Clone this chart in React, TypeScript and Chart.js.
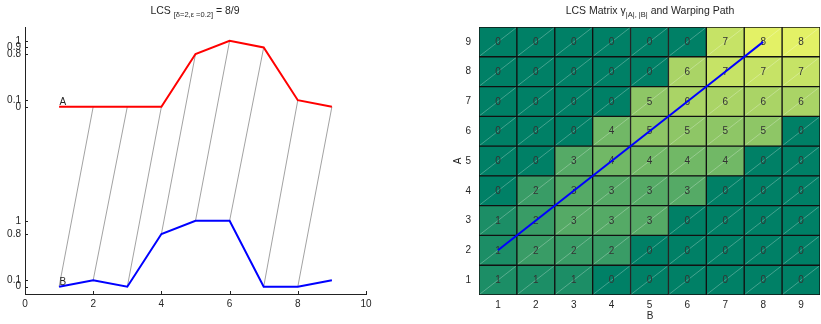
import React, { useEffect, useRef } from 'react';
import { Chart, registerables } from 'chart.js';

Chart.register(...registerables);

// ---- Left panel data ----
const POSITIONS = [1, 2, 3, 4, 5, 6, 7, 8, 9];
const SERIES_A = [0, 0, 0, 0, 0.8, 1, 0.9, 0.1, 0];
const SERIES_B = [0, 0.1, 0, 0.8, 1, 1, 0, 0, 0.1];
const A_OFFSET = 2.73;
const A_TICKS = [0, 0.1, 0.8, 0.9, 1];
const B_TICKS = [0, 0.1, 0.8, 1];
const X_TICKS = [0, 2, 4, 6, 8, 10];

// ---- Warping path (B index -> A index) ----
const PATH_B = [1, 2, 3, 4, 5, 6, 7, 8];
const PATH_A = [2, 3, 4, 5, 6, 7, 8, 9];

// ---- Right panel data: LCS matrix, rows A = 1..9, columns B = 1..9 ----
const MATRIX_COLS = ['1', '2', '3', '4', '5', '6', '7', '8', '9'];
const MATRIX_ROWS = [1, 2, 3, 4, 5, 6, 7, 8, 9];
const ROW_1 = [1, 1, 1, 0, 0, 0, 0, 0, 0];
const ROW_2 = [1, 2, 2, 2, 0, 0, 0, 0, 0];
const ROW_3 = [1, 2, 3, 3, 3, 0, 0, 0, 0];
const ROW_4 = [0, 2, 3, 3, 3, 3, 0, 0, 0];
const ROW_5 = [0, 0, 3, 4, 4, 4, 4, 0, 0];
const ROW_6 = [0, 0, 0, 4, 5, 5, 5, 5, 0];
const ROW_7 = [0, 0, 0, 0, 5, 6, 6, 6, 6];
const ROW_8 = [0, 0, 0, 0, 0, 6, 7, 7, 7];
const ROW_9 = [0, 0, 0, 0, 0, 0, 7, 8, 8];
const LCS_MATRIX = [ROW_1, ROW_2, ROW_3, ROW_4, ROW_5, ROW_6, ROW_7, ROW_8, ROW_9];
const COLOR_MAX = 9;

const FONT_FAMILY = '"Liberation Sans", Arial, Helvetica, sans-serif';
const TEXT_COLOR = '#262626';

function summer(v: number): string {
  const t = Math.max(0, Math.min(1, v / COLOR_MAX));
  const r = Math.round(255 * t);
  const g = Math.round(255 * (0.5 + 0.5 * t));
  return `rgb(${r},${g},102)`;
}

function fmt(v: number): string {
  return String(Number(v.toFixed(2)));
}

const inwardTicks = {
  id: 'inwardTicks',
  afterDraw(chart: any) {
    const { ctx, chartArea } = chart;
    const xs = chart.scales.x;
    const ys = chart.scales.y;
    ctx.save();
    ctx.strokeStyle = '#222';
    ctx.lineWidth = 1;
    ctx.beginPath();
    xs.ticks.forEach((t: any) => {
      const px = Math.round(xs.getPixelForValue(t.value)) + 0.5;
      ctx.moveTo(px, chartArea.bottom);
      ctx.lineTo(px, chartArea.bottom - 3);
    });
    ys.ticks.forEach((t: any) => {
      const py = Math.round(ys.getPixelForValue(t.value)) + 0.5;
      ctx.moveTo(chartArea.left, py);
      ctx.lineTo(chartArea.left + 3, py);
    });
    ctx.stroke();
    // series name labels
    ctx.fillStyle = TEXT_COLOR;
    ctx.font = `10px ${FONT_FAMILY}`;
    ctx.textAlign = 'left';
    ctx.textBaseline = 'alphabetic';
    ctx.fillText('A', xs.getPixelForValue(POSITIONS[0]) + 0.5, ys.getPixelForValue(SERIES_A[0] + A_OFFSET) - 2);
    ctx.fillText('B', xs.getPixelForValue(POSITIONS[0]) + 0.5, ys.getPixelForValue(SERIES_B[0]) - 2);
    ctx.restore();
  },
};

const cellPlugin = {
  id: 'cellText',
  afterDatasetDraw(chart: any, args: any) {
    const ds = chart.data.datasets[args.index];
    if (ds.rowIndex === undefined) return;
    const { ctx } = chart;
    const xs = chart.scales.x;
    const ys = chart.scales.y;
    const r = ds.rowIndex;
    const row = LCS_MATRIX[r];
    const halfW = (xs.getPixelForValue(1) - xs.getPixelForValue(0)) / 2;
    const halfH = Math.abs(ys.getPixelForValue(MATRIX_ROWS[r] + 0.5) - ys.getPixelForValue(MATRIX_ROWS[r]));
    ctx.save();
    row.forEach((val: number, c: number) => {
      const cx = xs.getPixelForValue(c);
      const cy = ys.getPixelForValue(MATRIX_ROWS[r]);
      ctx.strokeStyle = 'rgba(255,255,255,0.45)';
      ctx.lineWidth = 0.6;
      ctx.beginPath();
      ctx.moveTo(cx - halfW + 1, cy + halfH - 1);
      ctx.lineTo(cx + halfW - 1, cy - halfH + 1);
      ctx.stroke();
      ctx.fillStyle = '#333';
      ctx.font = `10px ${FONT_FAMILY}`;
      ctx.textAlign = 'center';
      ctx.textBaseline = 'middle';
      ctx.fillText(String(val), cx, cy + 0.5);
    });
    ctx.restore();
  },
};

export default function App() {
  const leftRef = useRef<HTMLCanvasElement | null>(null);
  const rightRef = useRef<HTMLCanvasElement | null>(null);

  useEffect(() => {
    const tickFont = { family: FONT_FAMILY, size: 10 };

    const grayLines = PATH_B.map((b, i) => ({
      data: [
        { x: POSITIONS[b - 1], y: SERIES_B[b - 1] },
        { x: POSITIONS[PATH_A[i] - 1], y: SERIES_A[PATH_A[i] - 1] + A_OFFSET },
      ],
      showLine: true,
      borderColor: '#444',
      borderWidth: 0.5,
      pointRadius: 0,
      order: 1,
    }));

    const left = new Chart(leftRef.current as HTMLCanvasElement, {
      type: 'scatter',
      data: {
        datasets: [
          {
            label: 'A',
            data: POSITIONS.map((x, i) => ({ x, y: SERIES_A[i] + A_OFFSET })),
            showLine: true,
            borderColor: '#ff0000',
            borderWidth: 2,
            pointRadius: 0,
            order: 0,
          },
          {
            label: 'B',
            data: POSITIONS.map((x, i) => ({ x, y: SERIES_B[i] })),
            showLine: true,
            borderColor: '#0000ff',
            borderWidth: 2,
            pointRadius: 0,
            order: 0,
          },
          ...grayLines,
        ] as any,
      },
      options: {
        responsive: false,
        animation: false,
        events: [],
        layout: { padding: { top: 27, right: 34, left: 0, bottom: 0 } },
        plugins: { legend: { display: false }, tooltip: { enabled: false }, title: { display: false } },
        scales: {
          x: {
            type: 'linear',
            min: 0,
            max: 10,
            afterBuildTicks: (s: any) => {
              s.ticks = X_TICKS.map((v) => ({ value: v }));
            },
            afterFit: (s: any) => {
              s.height = 30;
            },
            grid: { display: false, drawTicks: false },
            border: { display: true, color: '#222', width: 1 },
            ticks: { padding: 4, font: tickFont, color: TEXT_COLOR, maxRotation: 0 },
          },
          y: {
            type: 'linear',
            min: -0.11,
            max: 3.94,
            afterBuildTicks: (s: any) => {
              s.ticks = [...B_TICKS, ...A_TICKS.map((v) => v + A_OFFSET)].map((v) => ({ value: v }));
            },
            afterFit: (s: any) => {
              s.width = 25;
            },
            grid: { display: false, drawTicks: false },
            border: { display: true, color: '#222', width: 1 },
            ticks: {
              autoSkip: false,
              padding: 4,
              font: tickFont,
              color: TEXT_COLOR,
              callback: (v: any) => (v >= A_OFFSET - 0.01 ? fmt(v - A_OFFSET) : fmt(v)),
            },
          },
        },
      } as any,
      plugins: [inwardTicks],
    });

    const right = new Chart(rightRef.current as HTMLCanvasElement, {
      type: 'bar',
      data: {
        labels: MATRIX_COLS,
        datasets: [
          {
            type: 'line',
            data: PATH_B.map((b, i) => ({ x: MATRIX_COLS[b - 1], y: PATH_A[i] })),
            borderColor: '#0000ff',
            borderWidth: 2,
            pointRadius: 0,
            order: 0,
          },
          ...LCS_MATRIX.map((row, ri) => ({
            type: 'bar',
            rowIndex: ri,
            data: row.map(() => [MATRIX_ROWS[ri] - 0.5, MATRIX_ROWS[ri] + 0.5]),
            backgroundColor: row.map(summer),
            borderColor: '#111',
            borderWidth: 1,
            borderSkipped: false,
            grouped: false,
            categoryPercentage: 1,
            barPercentage: 1,
            order: 1,
          })),
        ] as any,
      },
      options: {
        responsive: false,
        animation: false,
        events: [],
        layout: { padding: { top: 27, right: 1, left: 0, bottom: 0 } },
        plugins: { legend: { display: false }, tooltip: { enabled: false }, title: { display: false } },
        scales: {
          x: {
            type: 'category',
            offset: true,
            afterFit: (s: any) => {
              s.height = 29;
            },
            grid: { display: false, drawTicks: false },
            border: { display: false },
            ticks: { padding: 4, font: tickFont, color: TEXT_COLOR, maxRotation: 0 },
          },
          y: {
            type: 'linear',
            min: 0.5,
            max: 9.5,
            afterBuildTicks: (s: any) => {
              s.ticks = MATRIX_ROWS.map((v) => ({ value: v }));
            },
            afterFit: (s: any) => {
              s.width = 59;
            },
            grid: { display: false, drawTicks: false },
            border: { display: false },
            ticks: { autoSkip: false, padding: 8, font: tickFont, color: TEXT_COLOR },
          },
        },
      } as any,
      plugins: [cellPlugin],
    });

    return () => {
      left.destroy();
      right.destroy();
    };
  }, []);

  const textStyle: React.CSSProperties = {
    position: 'absolute',
    fontFamily: FONT_FAMILY,
    fontSize: 10,
    color: TEXT_COLOR,
    lineHeight: '12px',
    whiteSpace: 'nowrap',
  };
  const titleStyle: React.CSSProperties = { ...textStyle, fontSize: 10.5 };
  const subStyle: React.CSSProperties = { fontSize: 7.5, verticalAlign: '-3px', lineHeight: '7px' };

  return (
    <div style={{ position: 'fixed', left: 0, top: 0, width: 821, height: 324, background: '#fff', overflow: 'hidden' }}>
      <canvas ref={leftRef} width={400} height={324} style={{ position: 'absolute', left: 0, top: 0, width: 400, height: 324 }} />
      <canvas ref={rightRef} width={401} height={324} style={{ position: 'absolute', left: 420, top: 0, width: 401, height: 324 }} />
      <div style={{ ...titleStyle, left: 0, width: 390, top: 4, textAlign: 'center' }}>
        LCS <span style={subStyle}>[δ=2,ε =0.2]</span> = 8/9
      </div>
      <div style={{ ...titleStyle, left: 500, width: 300, top: 4, textAlign: 'center' }}>
        LCS Matrix γ<span style={subStyle}>|A|, |B|</span> and Warping Path
      </div>
      <div style={{ ...textStyle, left: 600, width: 100, top: 310, textAlign: 'center' }}>B</div>
      <div
        style={{
          ...textStyle,
          left: 448,
          width: 20,
          top: 155,
          textAlign: 'center',
          transform: 'rotate(-90deg)',
        }}
      >
        A
      </div>
    </div>
  );
}
